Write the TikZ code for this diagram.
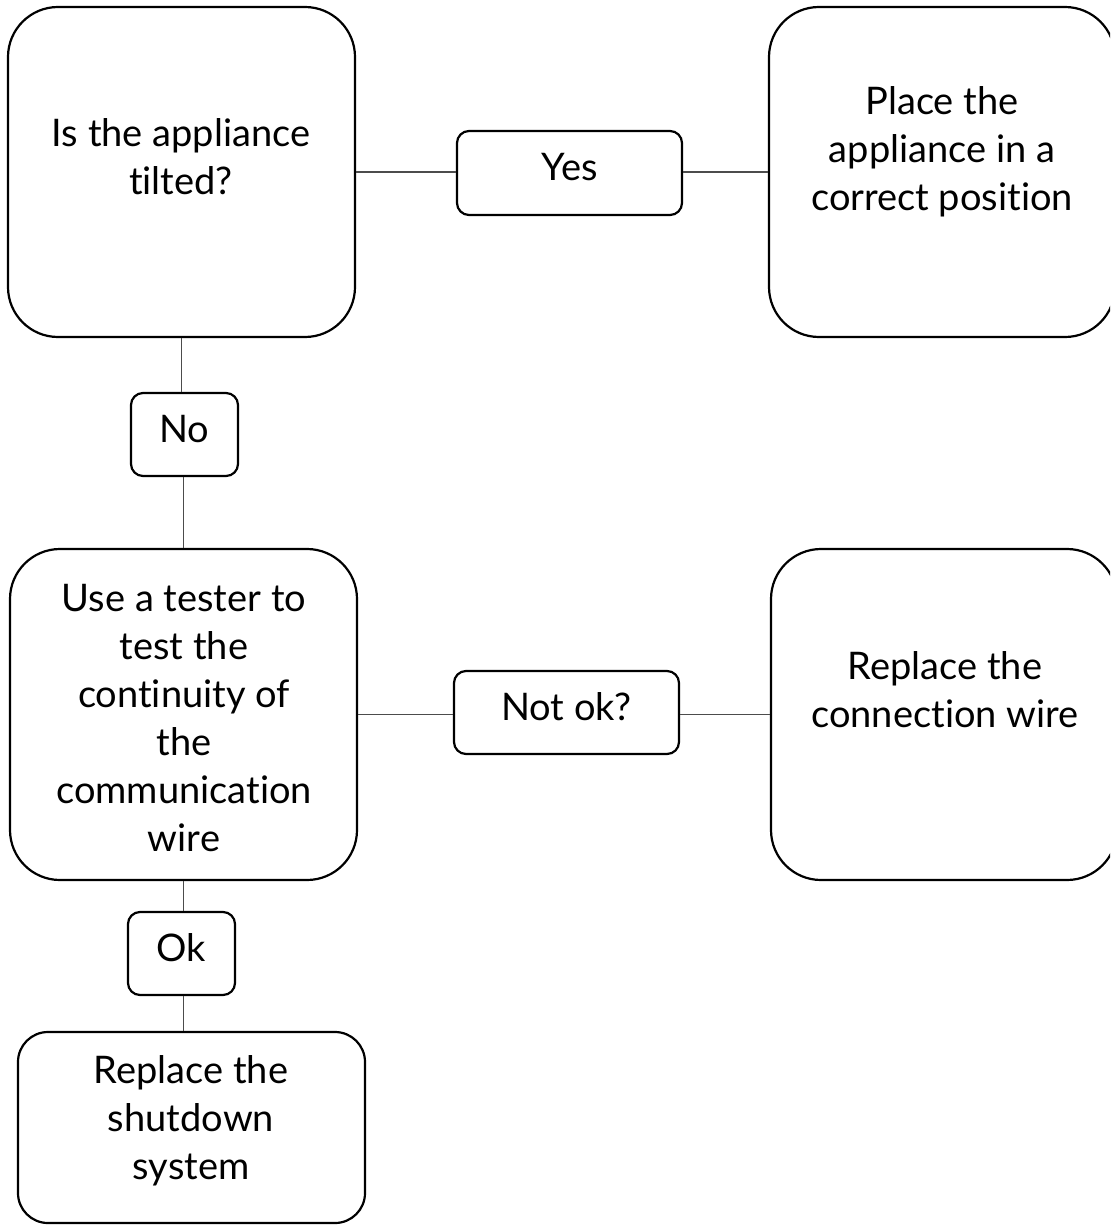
\documentclass[tikz,border=0pt]{standalone}
\usepackage{fontspec}
\setmainfont{Lato}[Ligatures=NoCommon]
\begin{document}
\begin{tikzpicture}[x=1pt,y=-1pt,
  bigbox/.style={draw=black, line width=2.2pt, rounded corners=50pt, inner sep=0pt},
  tag/.style={draw=black, line width=2.2pt, rounded corners=12pt, inner sep=0pt,
    text depth=12pt, font=\fontsize{38}{48}\selectfont},
  txt/.style={align=center, inner sep=0pt, font=\fontsize{38}{48}\selectfont},
  link/.style={draw=black!70, line width=1.3pt}]
\useasboundingbox (0,0) rectangle (1110,1225);
\clip (0,0) rectangle (1110,1225);

% step boxes
\node[bigbox, minimum width=347pt, minimum height=330pt] (A) at (181.5,172) {};
\node[bigbox, minimum width=346pt, minimum height=330pt] (B) at (942,172) {};
\node[bigbox, minimum width=347pt, minimum height=331pt] (C) at (183.5,714.5) {};
\node[bigbox, minimum width=346pt, minimum height=331pt] (D) at (944,714.5) {};
\node[bigbox, rounded corners=30pt, minimum width=347pt, minimum height=191pt] (E) at (191.5,1127.5) {};

% texts of the boxes
\node[txt] (tA) at (181,157) {Is the appliance\\tilted?};
\node[txt] (tB) at (942,152) {Place the\\appliance in a\\correct position};
\node[txt] (tC) at (184,718) {Use a tester to\\test the\\continuity of\\the\\communication\\wire};
\node[txt] (tD) at (945,690) {Replace the\\connection wire};
\node[txt] (tE) at (191,1121) {Replace the\\shutdown\\system};

% answer tags
\node[tag, minimum width=225pt, minimum height=84pt] (yes) at (569.5,173) {Yes};
\node[tag, minimum width=107pt, minimum height=83pt] (no) at (184.5,434.5) {No};
\node[tag, minimum width=225pt, minimum height=83pt] (notok) at (566.5,712.5) {Not ok?};
\node[tag, minimum width=107pt, minimum height=83pt] (ok) at (181.5,953.5) {Ok};

% connectors
\draw[link] (A.east) -- (A.east -| yes.west);
\draw[link] (yes.east |- B.west) -- (B.west);
\draw[link] (A.south) -- (A.south |- no.north);
\draw[link] (C.north |- no.south) -- (C.north);
\draw[link] (C.east) -- (C.east -| notok.west);
\draw[link] (notok.east |- D.west) -- (D.west);
\draw[link] (C.south) -- (C.south |- ok.north);
\draw[link] (C.south |- ok.south) -- (C.south |- E.north);
\end{tikzpicture}
\end{document}
